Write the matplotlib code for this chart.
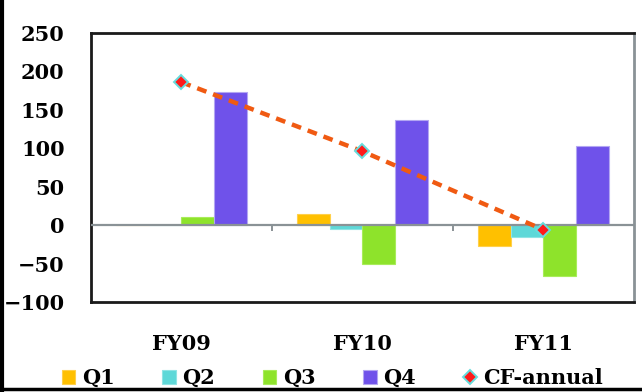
import numpy as np
import matplotlib
matplotlib.use("Agg")
import matplotlib.pyplot as plt
from matplotlib.lines import Line2D
from matplotlib.markers import TICKDOWN

plt.rcParams.update({
    "font.family": "DejaVu Serif",
    "font.weight": "bold",
    "font.size": 15,
})

# data
years = ["FY09", "FY10", "FY11"]
quarters = ["Q1", "Q2", "Q3", "Q4"]
q1 = [0, 14, -27]
q2 = [0, -5, -16]
q3 = [11, -51, -66]
q4 = [173, 137, 103]
cf_annual = [186, 96, -6]

q_colors = ["#FFC000", "#5ED8D8", "#8EE32B", "#6F52EA"]
q_edges = ["#FFD04A", "#8FE4E4", "#A8EC5A", "#B3A6F2"]

fig = plt.figure(figsize=(6.42, 3.92), dpi=100)
ax = fig.add_axes([0.1417, 0.2296, 0.9875 - 0.1417, 0.9158 - 0.2296])

x = np.arange(len(years))
w = 0.182
for i, (vals, c, ec, lbl) in enumerate(zip([q1, q2, q3, q4], q_colors, q_edges, quarters)):
    ax.bar(x + (i - 1.5) * w, vals, width=w, color=c, label=lbl,
           edgecolor=ec, linewidth=0.8, zorder=2)

# zero axis with category divider ticks
ax.axhline(0, color="#8a9296", linewidth=1.6, zorder=3)
ax.plot(x[:-1] + 0.5, [0] * (len(x) - 1), linestyle="none",
        marker=TICKDOWN, markersize=4, markeredgewidth=1.4,
        color="#8a9296", zorder=3)

ax.plot(x, cf_annual, color="#F05A12", linestyle=(0, (2.2, 1.6)),
        linewidth=3.2, zorder=4)
ax.plot(x, cf_annual, linestyle="none", marker="D", markersize=7,
        markerfacecolor="#FF1A1A", markeredgecolor="#66DDDD",
        markeredgewidth=1.4, zorder=5, label="CF-annual")

ax.set_xlim(-0.5, 2.5)
ax.set_ylim(-100, 250)
ax.set_yticks(np.arange(-100, 251, 50))
ax.tick_params(axis="y", length=0, pad=19)
ax.set_xticks(x)
ax.set_xticklabels(years)
ax.tick_params(axis="x", length=0, pad=23)

for s in ["left", "top", "bottom"]:
    ax.spines[s].set_color("#1a1a1a")
    ax.spines[s].set_linewidth(2)
ax.spines["right"].set_color("#8a9296")
ax.spines["right"].set_linewidth(2)

handles, labels = ax.get_legend_handles_labels()
order = [labels.index(n) for n in quarters + ["CF-annual"]]
fig.legend([handles[k] for k in order], [labels[k] for k in order],
           loc="center", bbox_to_anchor=(0.518, 0.036),
           ncol=5, frameon=False, handlelength=0.65, handleheight=0.65,
           handletextpad=0.3, columnspacing=2.3, fontsize=15)

# outer chart frame (left and bottom edges visible in the crop)
fig.add_artist(Line2D([0.003, 0.003], [0.0, 1.0], transform=fig.transFigure,
                      color="black", linewidth=3))
fig.add_artist(Line2D([0.0, 1.0], [0.007, 0.007], transform=fig.transFigure,
                      color="black", linewidth=2.5))

fig.savefig("out.png", dpi=100)
